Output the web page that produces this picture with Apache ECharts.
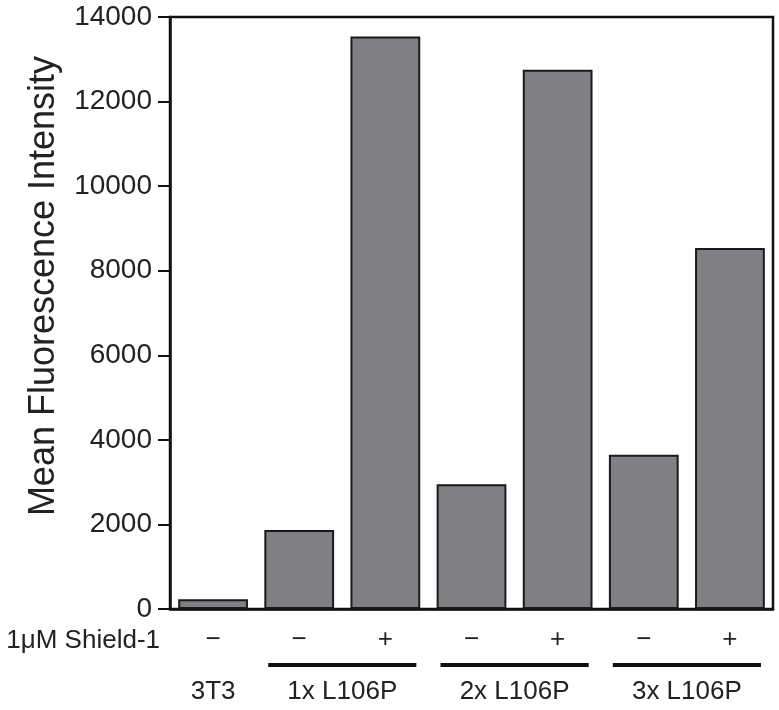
<!DOCTYPE html>
<html>
<head>
<meta charset="utf-8">
<script src="https://cdn.jsdelivr.net/npm/echarts@6/dist/echarts.min.js"></script>
<style>
html,body{margin:0;padding:0;background:#fff;}
#chart{width:779px;height:710px;}
</style>
</head>
<body>
<div id="chart"></div>
<script>
// ---- data ----
const categories = ['3T3', '1x-', '1x+', '2x-', '2x+', '3x-', '3x+'];
const shieldSigns = ['\u2212', '\u2212', '+', '\u2212', '+', '\u2212', '+'];
const values = [230, 1870, 13540, 2950, 12750, 3650, 8540];
const yTicks = [0, 2000, 4000, 6000, 8000, 10000, 12000, 14000];
const groupNames = ['3T3', '1x L106P', '2x L106P', '3x L106P'];
const groupStart = [0, 1, 3, 5];
const groupEnd = [0, 2, 4, 6];
const groupUnderline = [false, true, true, true];
const rowLabel = '1\u03bcM Shield-1';
const yName = 'Mean Fluorescence Intensity';

const FONT = 'Liberation Sans, Arial, Helvetica, sans-serif';
const chart = echarts.init(document.getElementById('chart'), null, {renderer: 'canvas'});

const grid = {left: 170, right: 6, top: 17, bottom: 101};

chart.setOption({
  animation: false,
  backgroundColor: '#fff',
  grid: Object.assign({show: true, borderColor: '#111', borderWidth: 2.5, containLabel: false}, grid),
  xAxis: {
    type: 'category',
    data: categories,
    axisLine: {show: true, lineStyle: {color: '#111', width: 2.5}},
    axisTick: {show: false},
    axisLabel: {
      margin: 18,
      fontFamily: FONT, fontSize: 26, color: '#222',
      formatter: (v, i) => shieldSigns[i]
    }
  },
  yAxis: {
    type: 'value',
    min: yTicks[0], max: yTicks[yTicks.length - 1], interval: 2000,
    name: yName, nameLocation: 'middle', nameGap: 108,
    nameTextStyle: {fontFamily: FONT, fontSize: 36, color: '#222', padding: [0, 0, 0, 54]},
    axisLine: {show: true, lineStyle: {color: '#111', width: 2.5}},
    axisTick: {show: true, inside: false, length: 12, lineStyle: {color: '#111', width: 2}},
    axisLabel: {margin: 18, fontFamily: FONT, fontSize: 28, color: '#222', formatter: v => String(v)},
    splitLine: {show: false}
  },
  series: [{
    type: 'bar',
    data: values,
    barCategoryGap: '19%',
    itemStyle: {color: '#808084', borderColor: '#1a1a1a', borderWidth: 2}
  }]
});

// annotations computed from the axis scale
const graphics = [];
const baseY = chart.convertToPixel({yAxisIndex: 0}, 0);
const catW = chart.convertToPixel({xAxisIndex: 0}, 1) - chart.convertToPixel({xAxisIndex: 0}, 0);
graphics.push({
  type: 'text', x: grid.left - 10, y: baseY + 32,
  style: {text: rowLabel, font: '26px ' + FONT, fill: '#222', align: 'right', verticalAlign: 'middle'}
});
for (let g = 0; g < groupNames.length; g++) {
  const x0 = chart.convertToPixel({xAxisIndex: 0}, groupStart[g]);
  const x1 = chart.convertToPixel({xAxisIndex: 0}, groupEnd[g]);
  const cx = (x0 + x1) / 2;
  if (groupUnderline[g]) {
    const half = (x1 - x0) / 2 + catW * 0.36;
    graphics.push({
      type: 'line',
      shape: {x1: cx - half, y1: baseY + 56, x2: cx + half, y2: baseY + 56},
      style: {stroke: '#111', lineWidth: 4}
    });
  }
  graphics.push({
    type: 'text', x: cx, y: baseY + 83,
    style: {text: groupNames[g], font: '26px ' + FONT, fill: '#222', align: 'center', verticalAlign: 'middle'}
  });
}
chart.setOption({graphic: graphics});
</script>
</body>
</html>
